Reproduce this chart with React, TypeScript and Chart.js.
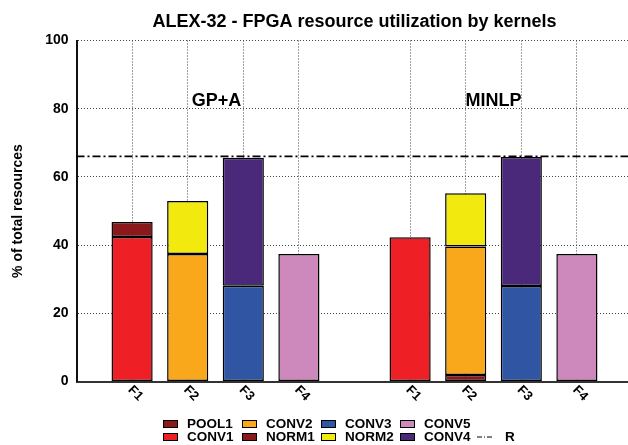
import React, { useEffect, useRef } from 'react';
import { Chart, registerables } from 'chart.js';

Chart.register(...registerables);

// ---------- data ----------
const categories = ['', 'F1', 'F2', 'F3', 'F4', '', 'F1', 'F2', 'F3', 'F4', ''];
const norm1 = [null, null, null, null, null, null, null, 1.9, null, null, null];
const conv1 = [null, 42.4, null, null, null, null, 42.3, null, null, null, null];
const pool1 = [null, 4.4, null, null, null, null, null, null, null, null, null];
const conv2 = [null, null, 37.4, null, null, null, null, 37.7, null, null, null];
const norm2 = [null, null, 15.5, null, null, null, null, 15.6, null, null, null];
const conv3 = [null, null, null, 28.1, null, null, null, null, 28.0, null, null];
const conv4 = [null, null, null, 37.5, null, null, null, null, 37.8, null, null];
const conv5 = [null, null, null, null, 37.4, null, null, null, null, 37.4, null];
const rLimit = 66;

const seriesNames = ['NORM1', 'CONV1', 'POOL1', 'CONV2', 'NORM2', 'CONV3', 'CONV4', 'CONV5'];
const seriesColors = ['#8b191b', '#ee1f25', '#8b191b', '#f9a81c', '#f2e90f', '#2f55a3', '#4a297a', '#cd89bb'];
const seriesData = [norm1, conv1, pool1, conv2, norm2, conv3, conv4, conv5];

const legendRows = [
  ['POOL1', 'CONV2', 'CONV3', 'CONV5'],
  ['CONV1', 'NORM1', 'NORM2', 'CONV4', 'R'],
];

const titleText = 'ALEX-32 - FPGA resource utilization by kernels';
const yTitleText = '% of total resources';
const groupLabels = ['GP+A', 'MINLP'];
const groupLabelPos = [2.52, 7.5];
const groupLabelValue = 82.3;
const yMin = 0;
const yMax = 100;
const yStep = 20;

const FONT = '"Liberation Sans", Arial, Helvetica, sans-serif';

const overlayPlugin = {
  id: 'overlay',
  afterDatasetsDraw(chart: any) {
    const { ctx, chartArea, scales } = chart;
    const x = scales.x;
    const y = scales.y;
    ctx.save();

    // R limit line
    const ry = y.getPixelForValue(rLimit);
    ctx.strokeStyle = '#000';
    ctx.lineWidth = 1.8;
    ctx.setLineDash([8, 3, 2, 3]);
    ctx.beginPath();
    ctx.moveTo(chartArea.left, ry);
    ctx.lineTo(chartArea.right, ry);
    ctx.stroke();
    ctx.setLineDash([]);

    // title
    ctx.fillStyle = '#000';
    ctx.font = `bold 18px ${FONT}`;
    ctx.textAlign = 'center';
    ctx.textBaseline = 'middle';
    ctx.fillText(titleText, (chartArea.left + chartArea.right) / 2, 22);

    // group labels
    groupLabels.forEach((t, i) => {
      ctx.fillText(t, x.getPixelForValue(groupLabelPos[i]), y.getPixelForValue(groupLabelValue));
    });

    // rotated x tick labels
    ctx.font = `bold 13px ${FONT}`;
    ctx.textAlign = 'left';
    ctx.textBaseline = 'middle';
    categories.forEach((c, i) => {
      if (!c) return;
      const px = x.getPixelForValue(i);
      ctx.save();
      ctx.translate(px - 2, chartArea.bottom + 6.5);
      ctx.rotate(Math.PI / 4);
      ctx.fillText(c, 0, 0);
      ctx.restore();
    });

    // legend
    const colX = [163, 242, 321, 400, 479];
    const rowY = [424, 437];
    ctx.font = `bold 13.5px ${FONT}`;
    legendRows.forEach((row, r) => {
      row.forEach((name, c) => {
        const lx = colX[c];
        const ly = rowY[r];
        if (name === 'R') {
          ctx.strokeStyle = '#000';
          ctx.lineWidth = 1;
          ctx.setLineDash([5, 2, 1, 2]);
          ctx.beginPath();
          ctx.moveTo(lx - 2, ly);
          ctx.lineTo(lx + 15, ly);
          ctx.stroke();
          ctx.setLineDash([]);
          ctx.fillStyle = '#000';
          ctx.fillText(name, lx + 26, ly);
        } else {
          const idx = seriesNames.indexOf(name);
          ctx.fillStyle = seriesColors[idx];
          ctx.fillRect(lx, ly - 4, 15, 8);
          ctx.strokeStyle = '#000';
          ctx.lineWidth = 1;
          ctx.strokeRect(lx + 0.5, ly - 3.5, 14, 7);
          ctx.fillStyle = '#000';
          ctx.fillText(name, lx + 24, ly);
        }
      });
    });

    ctx.restore();
  },
};

export default function App() {
  const canvasRef = useRef<HTMLCanvasElement | null>(null);

  useEffect(() => {
    const canvas = canvasRef.current;
    if (!canvas) return;
    const chart = new Chart(canvas, {
      type: 'bar',
      data: {
        labels: categories,
        datasets: seriesNames.map((name, i) => ({
          label: name,
          data: seriesData[i] as any,
          backgroundColor: seriesColors[i],
          borderColor: '#000',
          borderWidth: 1.5,
          borderSkipped: false,
          barPercentage: 0.74,
          categoryPercentage: 1,
        })),
      },
      options: {
        responsive: false,
        animation: false,
        events: [],
        layout: { padding: { left: 0, right: 7.5, top: 40.5, bottom: 0 } },
        plugins: {
          legend: { display: false },
          title: { display: false },
          tooltip: { enabled: false },
        },
        scales: {
          x: {
            type: 'category',
            stacked: true,
            offset: false,
            grid: {
              offset: false,
              drawTicks: false,
              color: (ctx: any) => (ctx.tick && ctx.tick.label ? '#444' : 'rgba(0,0,0,0)'),
              lineWidth: 1,
            },
            border: { display: true, color: '#333', width: 2, dash: [1, 2] },
            ticks: { display: false },
            afterFit: (scale: any) => {
              scale.height = 63.5;
            },
          },
          y: {
            stacked: true,
            min: yMin,
            max: yMax,
            grid: { drawTicks: false, color: '#444', lineWidth: 1 },
            border: { display: true, color: '#111', width: 2, dash: [1, 2] },
            ticks: {
              stepSize: yStep,
              padding: 8,
              color: '#000',
              font: { family: FONT, size: 14, weight: 'bold' },
            },
            title: {
              display: true,
              text: yTitleText,
              color: '#000',
              font: { family: FONT, size: 14, weight: 'bold' },
              padding: { top: 10, bottom: 0 },
            },
            afterFit: (scale: any) => {
              scale.width = 76.5;
            },
          },
        },
      },
      plugins: [overlayPlugin],
    });
    return () => chart.destroy();
  }, []);

  return (
    <div
      style={{
        position: 'fixed',
        left: 0,
        top: 0,
        width: 628,
        height: 445,
        overflow: 'hidden',
        background: '#fff',
      }}
    >
      <canvas ref={canvasRef} width={640} height={445} style={{ display: 'block' }} />
    </div>
  );
}
